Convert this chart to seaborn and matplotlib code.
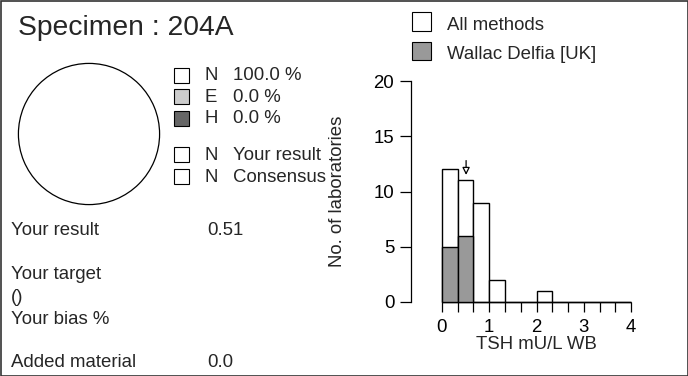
import numpy as np
import pandas as pd
import seaborn as sns
import matplotlib.pyplot as plt
from matplotlib.patches import Rectangle

# data
specimen = "204A"
bin_edges = np.linspace(0, 4, 13)
all_counts = [12, 11, 9, 2, 0, 0, 1, 0, 0, 0, 0, 0]
method_counts = [5, 6, 0, 0, 0, 0, 0, 0, 0, 0, 0, 0]
method_name = "Wallac Delfia [UK]"
your_result = 0.51
class_labels = ["N", "E", "H"]
class_pct = [100.0, 0.0, 0.0]
class_colors = ["white", "#cccccc", "#666666"]
your_class = "N"
consensus_class = "N"
added_material = 0.0

sns.set_style("white")
plt.rcParams['font.family'] = ['Liberation Sans', 'DejaVu Sans']

fig = plt.figure(figsize=(6.88, 3.76), dpi=100)

# background axes in pixel units for the text block
bg = fig.add_axes([0, 0, 1, 1])
bg.set_xlim(0, 688)
bg.set_ylim(376, 0)
bg.axis("off")
bg.add_patch(Rectangle((0.5, 0.5), 687, 375, fill=False, ec="#333333", lw=1.2))
bg.text(18, 28, f"Specimen : {specimen}", fontsize=20.3, va="center")

fs = 13.4
rows = [75.5, 96.5, 118]
for y, lab, pct, col in zip(rows, class_labels, class_pct, class_colors):
    bg.add_patch(Rectangle((174, y - 7.5), 15, 15, fc=col, ec="black", lw=0.8))
    bg.text(204, y + 0.5, lab, fontsize=fs, va="center")
    bg.text(233, y + 0.5, f"{pct:.1f} %", fontsize=fs, va="center")
for y, lab, txt in [(154.5, your_class, "Your result"), (176.5, consensus_class, "Consensus")]:
    col = class_colors[class_labels.index(lab)]
    bg.add_patch(Rectangle((174, y - 7.5), 15, 15, fc=col, ec="black", lw=0.8))
    bg.text(204, y + 0.5, lab, fontsize=fs, va="center")
    bg.text(233, y + 0.5, txt, fontsize=fs, va="center")

bg.text(11, 230.5, "Your result", fontsize=fs, va="center")
bg.text(207, 230.5, f"{your_result:.2f}", fontsize=fs, va="center")
bg.text(11, 274.5, "Your target", fontsize=fs, va="center")
bg.text(11, 297.5, "()", fontsize=fs, va="center")
bg.text(11, 319.5, "Your bias %", fontsize=fs, va="center")
bg.text(11, 362.5, "Added material", fontsize=fs, va="center")
bg.text(207, 362.5, f"{added_material:.1f}", fontsize=fs, va="center")

# histogram legend
for y, lab, col in [(21, "All methods", "white"), (50.5, method_name, "#999999")]:
    bg.add_patch(Rectangle((412, y - 9), 18.5, 18.5, fc=col, ec="black", lw=0.8))
    bg.text(447, y + 4, lab, fontsize=fs, va="center")

# pie
pax = fig.add_axes([17 / 688, 1 - 206 / 376, 144 / 688, 144 / 376])
vals = [p for p in class_pct if p > 0]
cols = [c for p, c in zip(class_pct, class_colors) if p > 0]
pax.pie(vals, colors=cols, startangle=90,
        wedgeprops=dict(edgecolor="black", linewidth=0.9))
pax.set_xlim(-1.02, 1.02)
pax.set_ylim(-1.02, 1.02)
pax.set_aspect("equal")
pax.axis("off")

# histogram
ax = fig.add_axes([411 / 688, 1 - 302 / 376, 251 / 688, 221 / 376])
hist = pd.DataFrame({
    "mid": (bin_edges[:-1] + bin_edges[1:]) / 2,
    "all": all_counts,
    "method": method_counts,
})
bw = bin_edges[1] - bin_edges[0]
rng = (bin_edges[0], bin_edges[-1])
sns.histplot(data=hist, x="mid", weights="all", binwidth=bw, binrange=rng,
             color="white", edgecolor="black", linewidth=1, alpha=1, ax=ax)
sns.histplot(data=hist, x="mid", weights="method", binwidth=bw, binrange=rng,
             color="#999999", edgecolor="black", linewidth=1, alpha=1, ax=ax)
for p in ax.patches:
    p.set_clip_on(False)
ax.annotate("", xy=(your_result, 11.5), xytext=(your_result, 12.8),
            arrowprops=dict(arrowstyle="-|>", fc="white", ec="black", lw=0.9,
                            mutation_scale=11, shrinkA=0, shrinkB=0),
            annotation_clip=False)
ax.set_xlim(-0.656, 4.656)
ax.set_ylim(0, 20)
ax.set_yticks([0, 5, 10, 15, 20])
ax.set_xticks(bin_edges,
              labels=[f"{e:.0f}" if abs(e - round(e)) < 1e-9 else "" for e in bin_edges])
for s in ["top", "right", "bottom"]:
    ax.spines[s].set_visible(False)
ax.spines["left"].set_color("black")
ax.spines["left"].set_linewidth(0.9)
ax.tick_params(axis="y", direction="out", length=8, width=0.9, pad=4,
               labelsize=fs, left=True, colors="black")
ax.tick_params(axis="x", direction="out", length=7.5, width=0.9, pad=4.5,
               labelsize=fs, bottom=True, colors="black")
ax.set_facecolor("none")
ax.set_ylabel("No. of laboratories", fontsize=fs)
ax.yaxis.set_label_coords(-0.26, 0.5)
ax.set_xlabel("TSH mU/L WB", fontsize=fs, labelpad=0.5)

fig.savefig("out.png", dpi=100)
